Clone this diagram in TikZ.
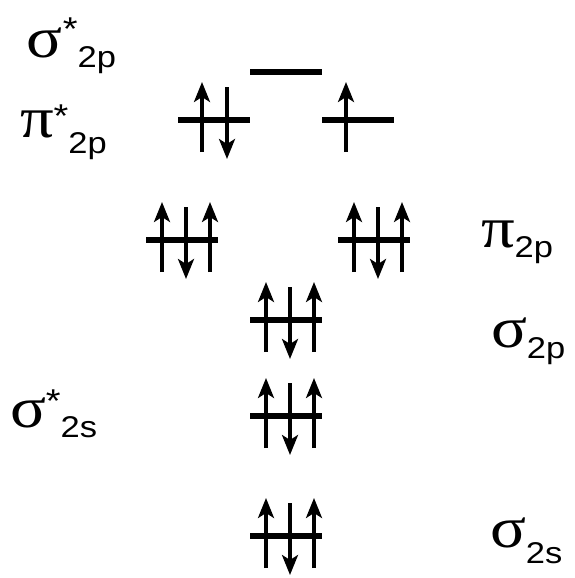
\documentclass[tikz,border=0pt]{standalone}
\usepackage{fontspec}
\setmainfont{Liberation Sans}
\newfontfamily\grk{Liberation Serif}
\usetikzlibrary{arrows.meta}
\tikzset{
  level/.style={line width=5.5pt},
  spin/.style={line width=3.2pt,-{Stealth[length=20pt,width=16pt,inset=5pt]}},
  lbl/.style={anchor=base west,inner sep=0pt,outer sep=0pt}
}
\newcommand{\gsym}[1]{{\fontsize{58pt}{58pt}\grk #1}}
\newcommand{\sbs}[2]{\raisebox{-#1}{\fontsize{30pt}{30pt}\selectfont #2}}
\newcommand{\stl}[1]{\raisebox{#1}{\fontsize{33pt}{33pt}\selectfont *}}
\newcommand{\wide}[1]{\scalebox{1.15}[1]{#1}}
\newcommand{\lev}[3]{\draw[level] (#2,#3) -- ++(72,0) coordinate (#1);}
\newcommand{\upsp}[2]{\draw[spin] (#1,#2+32) -- (#1,#2-38);}
\newcommand{\dnsp}[2]{\draw[spin] (#1,#2-33) -- (#1,#2+39);}
\newcommand{\trip}[2]{\upsp{#1+16}{#2}\dnsp{#1+40}{#2}\upsp{#1+64}{#2}}
\begin{document}
\begin{tikzpicture}[x=1pt,y=-1pt]
\useasboundingbox[fill=white] (0,0) rectangle (574,578);
% levels
\lev{sstar2p}{250}{72}
\lev{pstarL}{178}{120}
\lev{pstarR}{322}{120}
\lev{piL}{146}{240}
\lev{piR}{338}{240}
\lev{s2p}{250}{320}
\lev{sstar2s}{250}{416}
\lev{s2s}{250}{536}
% electrons
\upsp{202}{120}
\draw[spin] (227,87) -- (227,159);
\upsp{346}{120}
\trip{146}{240}
\trip{338}{240}
\trip{250}{320}
\trip{250}{416}
\trip{250}{536}
% labels
\node[lbl] (Lsstar2p) at (27,57) {\wide{\gsym{σ}\stl{17pt}\sbs{10pt}{2p}}};
\node[lbl] (Lpstar2p) at (20,137) {\wide{\gsym{π}\stl{10pt}\sbs{16pt}{2p}}};
\node[lbl] (Lpi2p) at (481,247) {\wide{\gsym{π}\sbs{10pt}{2p}}};
\node[lbl] (Ls2p) at (491,347) {\wide{\gsym{σ}\sbs{11pt}{2p}}};
\node[lbl] (Lsstar2s) at (10,427) {\wide{\gsym{σ}\stl{15pt}\sbs{10pt}{2s}}};
\node[lbl] (Ls2s) at (490,547) {\wide{\gsym{σ}\sbs{16pt}{2s}}};
\end{tikzpicture}
\end{document}
